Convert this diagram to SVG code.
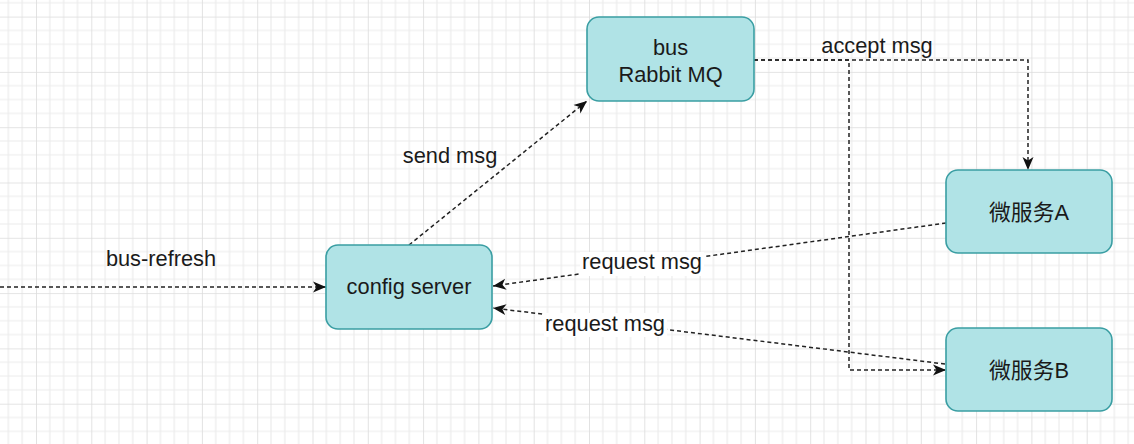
<svg xmlns="http://www.w3.org/2000/svg" width="1134" height="444" viewBox="0 0 1134 444">
  <style>
    .node rect { fill: #b0e3e6; stroke: #3a9ea3; stroke-width: 1.6; }
    .lbl { font-family: "Liberation Sans", Arial, "Noto Sans CJK SC", sans-serif; font-size: 21.8px; fill: #1a1a1a; text-anchor: middle; }
    .edge { fill: none; stroke: #222; stroke-width: 1.5; stroke-dasharray: 4 3; }
    .bg { fill: #ffffff; }
  </style>
  <defs>
    <pattern id="grid" x="36" y="16.6" width="55.3" height="55.3" patternUnits="userSpaceOnUse">
      <path d="M13.825 0V55.3M27.65 0V55.3M41.475 0V55.3M0 13.825H55.3M0 27.65H55.3M0 41.475H55.3" stroke="#ececec" stroke-width="1.2" fill="none"/>
      <path d="M0 0V55.3M0 0H55.3" stroke="#dcdcdc" stroke-width="1.6" fill="none"/>
    </pattern>
    <marker id="arr" markerUnits="userSpaceOnUse" markerWidth="15" markerHeight="12" refX="13" refY="5.5" orient="auto" viewBox="0 0 15 11">
      <path d="M0 0L13 5.5L0 11L3.5 5.5Z" fill="#111"/>
    </marker>
  </defs>
  <rect width="1134" height="444" fill="#ffffff"/>
  <rect width="1134" height="444" fill="url(#grid)"/>

  <g id="connectors">
    <path class="edge" d="M0 287H326" marker-end="url(#arr)"/>
    <text class="lbl" x="161" y="266">bus-refresh</text>

    <path class="edge" d="M409 245L587 101" marker-end="url(#arr)"/>
    <text class="lbl" x="450" y="163">send msg</text>

    <path class="edge" d="M754 60H1028V170" marker-end="url(#arr)"/>
    <text class="lbl" x="877" y="53">accept msg</text>

    <path class="edge" d="M754 60H849V370H946" marker-end="url(#arr)"/>

    <path class="edge" d="M946 223L493 286" marker-end="url(#arr)"/>
    <rect class="bg" x="580" y="252" width="124" height="24"/>
    <text class="lbl" x="642" y="269">request msg</text>

    <path class="edge" d="M945 364L493 308" marker-end="url(#arr)"/>
    <rect class="bg" x="544" y="313" width="123" height="24"/>
    <text class="lbl" x="605" y="331">request msg</text>
  </g>

  <g id="rabbitmq" class="node">
    <rect x="587" y="17" width="167" height="84" rx="12"/>
    <text class="lbl" x="670.5" y="55">bus</text>
    <text class="lbl" x="670.5" y="82">Rabbit MQ</text>
  </g>
  <g id="configserver" class="node">
    <rect x="326" y="245" width="166" height="84" rx="12"/>
    <text class="lbl" x="409" y="294">config server</text>
  </g>
  <g id="serviceA" class="node">
    <rect x="946" y="170" width="166" height="83" rx="12"/>
    <text class="lbl" x="1029" y="220">微服务A</text>
  </g>
  <g id="serviceB" class="node">
    <rect x="946" y="328" width="166" height="83" rx="12"/>
    <text class="lbl" x="1029" y="378">微服务B</text>
  </g>
</svg>
